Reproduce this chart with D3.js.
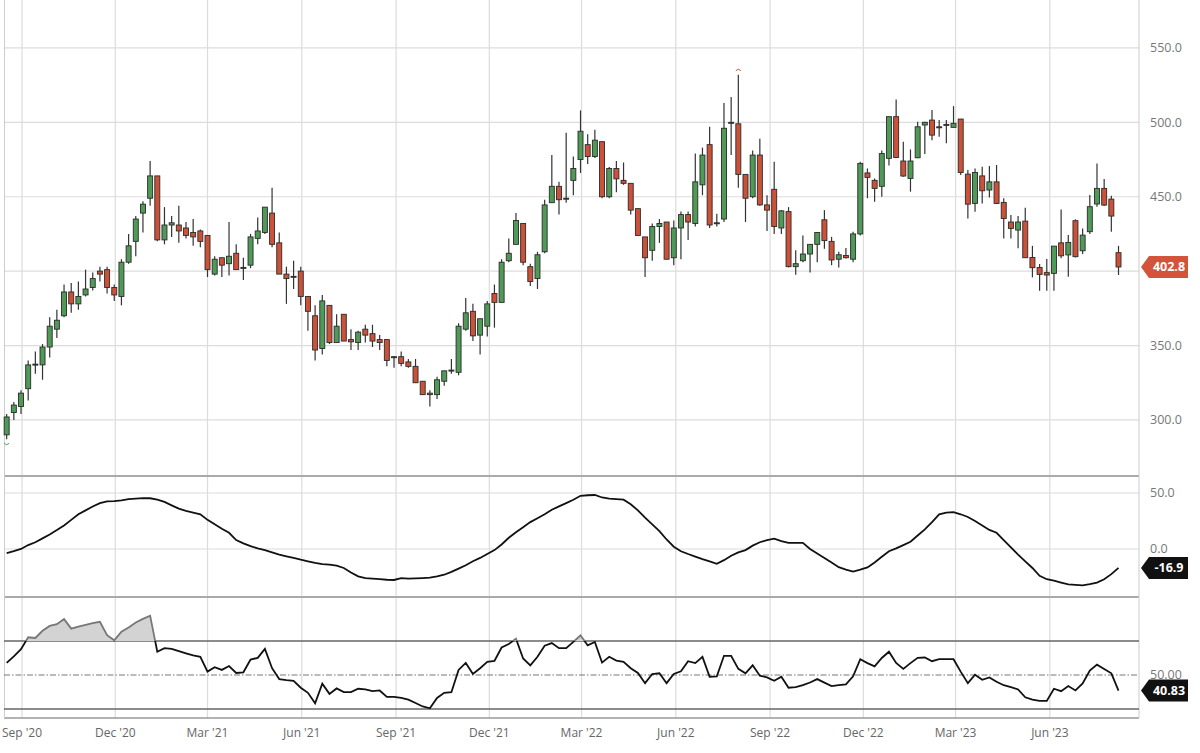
<!DOCTYPE html>
<html>
<head>
<meta charset="utf-8">
<script src="https://cdn.jsdelivr.net/npm/d3@7"></script>
<style>
  body { margin: 0; background: #fff; }
  svg { display: block; font-family: 'Open Sans', sans-serif; }
</style>
</head>
<body>
<div id="chart"></div>
<script>
// weekly candles, first week starts Mon 17 Aug 2020
const firstWeek = Date.UTC(2020, 7, 17);

const open = [290,305,309,321,337,337,349,361,370,386,378,384,389,400,401,389,383,406,420,439,449,464,421,431,431,429,426,427,424,398,
  409,405,412,402,404,422,426,439,419,398,396,400,383,370,348,377,352,371,354,352,361,358,354,354,342,342.5,339,336,326,318,
  317,326,333,332,361,373,357,363,385,379,407,418,432,403,395,413,446,457,449,461,475,485,477,487,450,469,461,459,442,423,
  414,430,433,409,429,438,432,458,485,432,435,499.5,499,465,450,478,444.5,455,429,440,403,407,411.5,418,434.5,420,408,410.5,408,425,
  466,461,457,475.8,503.8,474,462.3,476.2,498.2,501.5,497,498.5,496.6,502.2,465.2,445.5,464,454.5,460,446.2,433,427.6,433.6,409.2,402.5,399,398.5,419,410.9,433.9,
  413.7,426.5,445.1,455.6,448.4,412.4];
const high = [304,312,320,340,346,351,369,374,391,392,393,401,399,403,403,391,408,425,437,447,474,464,443,437,444,433,435,428,424,410,
  409,433,418,409,425,436,443,456,426,403,407,403,383,377,384,377,371,371,361,360,364,364,357,354,343,346,341,341,326,320,
  329,333,341,365,382,378,368,380,391,408,422,439,432,405,413,448,478,460,493,477,508,492,495,487,470,474,473,459,442,423,
  432,435,433,434,440,440,479,483,497,438.5,513,517,532,465,481,489,451,473.5,441,443,414,424,418,426,441,423,413,415.5,426.5,473.5,
  469,462.3,481,503.8,515.4,487,481.8,500.4,500.4,508.2,501.5,501.5,510.9,502.2,467.9,469,470.2,470.6,471.3,448.9,437.7,437,442.6,417,404.8,408.1,416.8,441.5,424.3,434.8,
  428.7,451.1,472.4,461.9,450.7,417];
const low = [287,300,304,313,331,327,342,355,369,372,374,383,387,393,385,380,377,405,410,426,444,420,418,423,419,422,417,416,396,397,
  396,397,401,394,402,418,425,416,398,378,388,377,360,340,344,351,352,353,347,347,352,349,347,336,335,336,335,325,317,309,
  314,323,331,330,360,353,344,356,362,379,406,418,404,390,388,412,446,438,446,451,466,472,476,449,449,453,458,438,424,396,
  407,419,408,404,408,421,430,451,429,430,433,478,456,433,449,444,427,425,425,402.5,397.5,406,399,406,415,404,402.5,408.5,406,424,
  449,446.6,450,471,476.4,463.4,453.4,475.8,478.7,488,490.3,486,496.6,464.6,435.4,439.9,445.5,449.5,445.1,422,422,415.3,409,395.8,386.8,386.8,386.8,408.6,396.2,409.2,
  411.5,424.9,443.3,443.7,426.5,397.4];
const close = [302,310,318,337,337.5,349,363,367,386,378,383,388,395,398,389,384,406,417,435,445,464,421,431,432.5,427,424,423,420,401,408,
  404,410,401,402.5,423,427,443,418,398,395,396.5,383,373,347,380,352,363,353,352.5,359,357,353,352,340,342.5,338,336,325,317,317,
  327,333,333.5,363,372,356.5,368,378,379,406,412,434,406,393,411,444.5,457,448,449,469,494,477,488,450,469,462,459,441,424,409,
  430,432,408,429,438,433,460,478,431,432.5,496,500,465,449,478,444.5,441,430,440.5,403,405,411.5,418,426,420.5,407.5,411,409,425,472.4,
  463,455.6,479,503.8,476.4,463.9,474,497,500,491.4,496.5,498.6,499.3,466.3,445,466.3,454,460,445.5,435.4,428.7,433,409,402.3,397.8,397.4,416.8,410.3,419.3,409.7,
  424.2,443.3,455.6,444.4,437,402.8];

// middle panel oscillator, one value per week
const osc = [-3.6,-2,0,3.5,6,9.5,13,16.9,21,26,31,34.5,38,41,42.5,42.8,43.5,44.5,45,45.5,45.3,44,42,39,36,34,32.5,31,26,22,
  18,14.5,8,5,2.5,0.5,-1,-3,-5,-6.5,-8,-9.6,-11,-12.5,-13.5,-14,-14.8,-17,-21,-24.5,-26,-26.5,-27,-27.5,-27.7,-26,-26.5,-26.3,-26,-25.6,
  -24.5,-23,-20.5,-17.5,-14.5,-11,-8,-4.5,-1,4,10,15,19.5,24,27.5,31,35,38,41,44,47.5,48,48.2,46,45,44.5,44,40,34.5,28,
  22,16,8.5,2,-2,-4.5,-6.8,-9,-11,-13.3,-10,-6,-3,-1,3,6,8,9.3,7,5.4,5.4,5.4,0,-4,-8,-12,-16.3,-18.5,-20.2,-18.5,
  -16.5,-12,-7,-2,0.5,3.5,6.5,12,17.5,24,31,32.5,33,31,28.6,25,21,17,14.5,8,1.5,-5,-11,-17,-24,-27,-28.3,-30,-31.6,-32,
  -32.5,-31.5,-30,-27,-22.5,-16.9];

// bottom panel RSI, one value per week
const rsi = [57.1,61,65.2,72.2,71.8,76,78.9,79.9,82.9,77.3,78.5,79.5,80.5,81.3,73.4,70.4,75.5,78,80.9,83,84.9,63.7,65.8,65.4,64,62.7,61.5,60.7,52,54.6,
  53,55.3,51.2,51.6,59.1,60.1,65.4,54,47.6,47,46.6,42.5,39.5,33.4,44.9,38.9,42.1,39.9,39.9,41.9,41.5,40.5,40.9,37.1,37.1,36.5,35.5,33.5,31.5,30.4,
  36.5,39.5,39.9,53,57.1,50.6,54,57.7,58.3,66.2,68.2,71.4,59.7,55.7,60.7,67.2,68.8,65.8,65.8,69.5,73.4,67.4,69.4,57.3,60.7,58.5,57.7,54,51.2,45.2,
  50.6,51,45.2,50.6,52.2,58.1,57,60.7,49,49.2,61.3,61.3,53.6,51,55.7,49.6,48.6,46.6,49,42.5,42.9,44,45.6,47.6,45.5,43.5,44,44.5,49.2,59.3,
  57,55.1,60,63.7,57.1,53.6,57,60.1,60.3,58.1,59.3,59.3,59.3,52,45.2,50.2,47.2,48.6,46,44,42.9,41.5,36.9,35.5,34.8,34.8,41.9,40.5,43.5,40.9,
  45,52.6,56.1,53.5,51,40.83];

const priceTicks = [300, 350, 400, 450, 500, 550];
const oscTicks = [0, 50];
const rsiLevels = [30, 50, 70];
const xTickMonths = [[2020,8],[2020,11],[2021,2],[2021,5],[2021,8],[2021,11],[2022,2],[2022,5],[2022,8],[2022,11],[2023,2],[2023,5]];

const W = 1200, H = 753, plotRight = 1139;
const DAY = 86400000;
const weeks = close.map((c, i) => new Date(firstWeek + i * 7 * DAY));

const svg = d3.select('#chart').append('svg').attr('width', W).attr('height', H);

const x = d3.scaleUtc()
  .domain([new Date(Date.UTC(2020, 8, 1) - 21.5 * DAY), new Date(Date.UTC(2023, 7, 27))])
  .range([0, plotRight]);
const yP = d3.scaleLinear().domain([263, 582.2]).range([475, 0]);
const yO = d3.scaleLinear().domain([-42.9, 64.3]).range([597, 477]);
const yR = d3.scaleLinear().domain([24.7, 95.9]).range([718, 597]);

const tickDates = xTickMonths.map(d => new Date(Date.UTC(d[0], d[1], 1)));

// vertical grid through all panels
svg.append('g').selectAll('line').data(tickDates).enter().append('line')
  .attr('x1', d => x(d)).attr('x2', d => x(d))
  .attr('y1', 0).attr('y2', 718)
  .attr('stroke', '#dcdcdc').attr('stroke-width', 1.2);

// horizontal grids
svg.append('g').selectAll('line').data(priceTicks).enter().append('line')
  .attr('x1', 4).attr('x2', plotRight).attr('y1', d => yP(d)).attr('y2', d => yP(d))
  .attr('stroke', '#dcdcdc').attr('stroke-width', 1.2);
svg.append('g').selectAll('line').data(oscTicks).enter().append('line')
  .attr('x1', 4).attr('x2', plotRight).attr('y1', d => yO(d)).attr('y2', d => yO(d))
  .attr('stroke', '#dcdcdc').attr('stroke-width', 1.2);

// panel borders
[[476, '#aaa', 2], [597, '#aaa', 2], [718, '#999', 1.5]].forEach(b => {
  svg.append('line').attr('x1', 4).attr('x2', plotRight).attr('y1', b[0]).attr('y2', b[0])
    .attr('stroke', b[1]).attr('stroke-width', b[2]);
});
svg.append('line').attr('x1', 4.5).attr('x2', 4.5).attr('y1', 0).attr('y2', 718).attr('stroke', '#ccc');
svg.append('line').attr('x1', plotRight).attr('x2', plotRight).attr('y1', 0).attr('y2', 718).attr('stroke', '#ccc');

// candles
const bw = 5;
const candles = svg.append('g').selectAll('g').data(weeks).enter().append('g');
candles.append('line')
  .attr('x1', d => x(d)).attr('x2', d => x(d))
  .attr('y1', (d, i) => yP(high[i])).attr('y2', (d, i) => yP(low[i]))
  .attr('stroke', '#333').attr('stroke-width', 1.2);
candles.append('rect')
  .attr('x', d => x(d) - bw / 2)
  .attr('y', (d, i) => yP(Math.max(open[i], close[i])))
  .attr('width', bw)
  .attr('height', (d, i) => Math.max(1, Math.abs(yP(open[i]) - yP(close[i]))))
  .attr('fill', (d, i) => close[i] >= open[i] ? '#4f9a57' : '#cc5139')
  .attr('stroke', '#2b2b2b').attr('stroke-width', 0.9);

// small markers for lowest low and highest high
const iLow = d3.minIndex(low), iHigh = d3.maxIndex(high);
svg.append('path')
  .attr('d', `M${x(weeks[iLow]) - 2.5},${yP(low[iLow]) + 4} q2.5,3 5,0`)
  .attr('fill', 'none').attr('stroke', '#4f9a57');
svg.append('path')
  .attr('d', `M${x(weeks[iHigh]) - 2.5},${yP(high[iHigh]) - 4} q2.5,-3 5,0`)
  .attr('fill', 'none').attr('stroke', '#cc5139');

// oscillator line
svg.append('path').datum(osc)
  .attr('d', d3.line().x((d, i) => x(weeks[i])).y(d => yO(d)))
  .attr('fill', 'none').attr('stroke', '#111').attr('stroke-width', 1.8);

// RSI levels
rsiLevels.forEach(v => {
  svg.append('line').attr('x1', 4).attr('x2', plotRight).attr('y1', yR(v)).attr('y2', yR(v))
    .attr('stroke', v === 50 ? '#777' : '#666').attr('stroke-width', v === 50 ? 1 : 1.3)
    .attr('stroke-dasharray', v === 50 ? '6,2,1.5,2' : null);
});

const defs = svg.append('defs');
defs.append('clipPath').attr('id', 'above70').append('rect')
  .attr('x', 0).attr('y', 597).attr('width', plotRight).attr('height', yR(70) - 597);
defs.append('clipPath').attr('id', 'below70').append('rect')
  .attr('x', 0).attr('y', yR(70)).attr('width', plotRight).attr('height', 718 - yR(70));

svg.append('path').datum(rsi)
  .attr('clip-path', 'url(#above70)')
  .attr('d', d3.area().x((d, i) => x(weeks[i])).y0(yR(70)).y1(d => yR(d)))
  .attr('fill', '#d3d3d3');
const rsiLine = d3.line().x((d, i) => x(weeks[i])).y(d => yR(d));
svg.append('path').datum(rsi).attr('clip-path', 'url(#above70)')
  .attr('d', rsiLine).attr('fill', 'none').attr('stroke', '#777').attr('stroke-width', 1.8);
svg.append('path').datum(rsi).attr('clip-path', 'url(#below70)')
  .attr('d', rsiLine).attr('fill', 'none').attr('stroke', '#111').attr('stroke-width', 1.8);

// last values
const lastClose = close[close.length - 1];
const lastOsc = osc[osc.length - 1];
const lastRsi = rsi[rsi.length - 1];
const fmt = f => v => d3.format(f)(v).replace('\u2212', '-');

// right axis labels (skip a label hidden behind a value tag)
const lab = (txt, y) => svg.append('text').attr('x', 1150).attr('y', y).attr('dy', '0.35em')
  .attr('font-size', 12.5).attr('fill', '#777').text(txt);
priceTicks.filter(v => Math.abs(yP(v) - yP(lastClose)) > 16).forEach(v => lab(fmt('.1f')(v), yP(v)));
oscTicks.forEach(v => lab(fmt('.1f')(v), yO(v)));
lab('50.00', yR(50));

// x axis labels
svg.append('g').selectAll('text').data(tickDates).enter().append('text')
  .attr('x', d => x(d)).attr('y', 733).attr('dy', '0.35em')
  .attr('text-anchor', 'middle').attr('font-size', 12).attr('fill', '#666')
  .text(d => d3.utcFormat("%b '%y")(d));

// last value tags
function tag(y, color, txt) {
  const g = svg.append('g').attr('transform', `translate(1141,${y})`);
  g.append('path').attr('d', 'M0,0 L8,-11 L47,-11 L47,11 L8,11 Z').attr('fill', color);
  g.append('text').attr('x', 28).attr('dy', '0.36em').attr('text-anchor', 'middle')
    .attr('font-size', 12.5).attr('font-weight', 'bold').attr('fill', '#fff').text(txt);
}
tag(yP(lastClose), '#d4533b', fmt('.1f')(lastClose));
tag(yO(lastOsc), '#111', fmt('.1f')(lastOsc));
tag(yR(lastRsi), '#111', fmt('.2f')(lastRsi));
</script>
</body>
</html>
